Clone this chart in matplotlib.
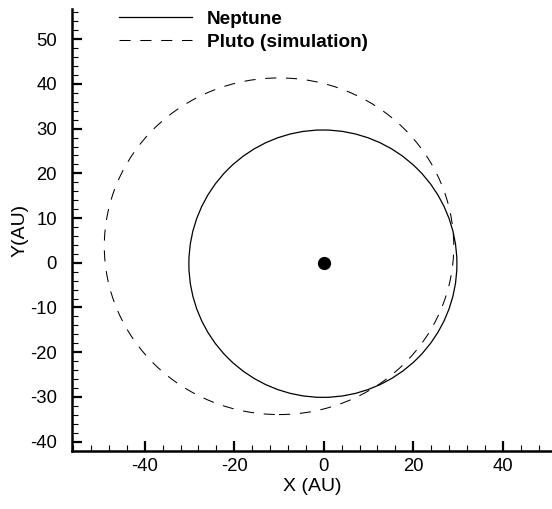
import matplotlib
matplotlib.use("Agg")
import matplotlib.pyplot as plt
from matplotlib.patches import Ellipse
from matplotlib.lines import Line2D
from matplotlib.ticker import MultipleLocator

plt.rcParams['font.family'] = ['Liberation Sans', 'DejaVu Sans']
plt.rcParams['lines.scale_dashes'] = False
plt.rcParams['axes.unicode_minus'] = False

# Data (AU)
series_labels = ["Neptune", "Pluto (simulation)"]
# orbit ellipses: center x, center y, full width, full height, rotation (deg)
neptune_orbit = [-0.2, -0.2, 59.9, 59.8, 0.0]
pluto_orbit = [-10.0, 3.7, 78.1, 75.3, 0.0]
sun_position = [0.0, 0.0]
x_ticks = [-40, -20, 0, 20, 40]
y_ticks = [-40, -30, -20, -10, 0, 10, 20, 30, 40, 50]

fig = plt.figure(figsize=(5.52, 5.09), dpi=100)
ax = fig.add_axes([72.3/552, (509-451)/509, (552-72.3)/552, (451-9.3)/509])

dash = (0, (8, 7))
nep = Ellipse((neptune_orbit[0], neptune_orbit[1]), neptune_orbit[2], neptune_orbit[3],
              angle=neptune_orbit[4], fill=False, edgecolor='black', linewidth=0.9)
plu = Ellipse((pluto_orbit[0], pluto_orbit[1]), pluto_orbit[2], pluto_orbit[3],
              angle=pluto_orbit[4], fill=False, edgecolor='black', linewidth=0.75, linestyle=dash)
ax.add_patch(nep)
ax.add_patch(plu)
ax.plot([sun_position[0]], [sun_position[1]], 'o', color='black', markersize=8.5)

ax.set_xlim(-56.2, 51.0)
ax.set_ylim(-42.1, 56.7)

ax.set_xticks(x_ticks)
ax.set_yticks(y_ticks)
ax.xaxis.set_minor_locator(MultipleLocator(4))
ax.yaxis.set_minor_locator(MultipleLocator(2))

for s in ['top', 'right']:
    ax.spines[s].set_visible(False)
for s in ['left', 'bottom']:
    ax.spines[s].set_linewidth(1.8)

ax.tick_params(which='major', direction='in', length=7, width=1.6, labelsize=13.3)
ax.tick_params(which='minor', direction='in', length=4.3, width=0.8)
ax.tick_params(axis='y', which='major', pad=11)
ax.tick_params(axis='x', which='major', pad=5)

ax.set_xlabel('X (AU)', fontsize=14, labelpad=2)
ax.set_ylabel('Y(AU)', fontsize=14, labelpad=1)

handles = [Line2D([], [], color='black', linewidth=0.9),
           Line2D([], [], color='black', linewidth=0.75, linestyle=dash)]
leg = ax.legend(handles, series_labels, loc='upper left', bbox_to_anchor=(0.0974, 0.998),
                frameon=False, borderaxespad=0, borderpad=0, handlelength=3.84,
                handletextpad=0.79, labelspacing=0.32, prop={'weight': 'bold', 'size': 13.7})

fig.savefig('out.png', dpi=100)
